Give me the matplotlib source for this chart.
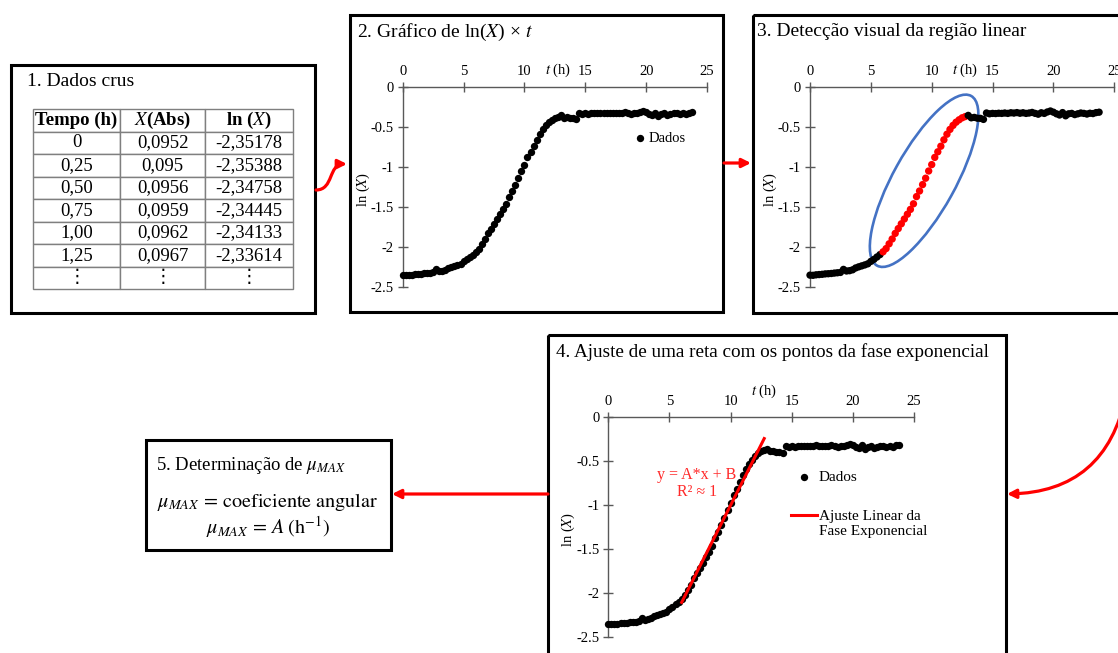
import numpy as np
import matplotlib
matplotlib.use('Agg')
import matplotlib.pyplot as plt
from matplotlib.patches import Rectangle, Ellipse, FancyArrowPatch
from matplotlib.path import Path
from matplotlib.legend_handler import HandlerLine2D
from matplotlib.transforms import ScaledTranslation
from matplotlib.ticker import FuncFormatter

plt.rcParams['font.family'] = ['Liberation Serif', 'DejaVu Serif', 'DejaVu Sans']
plt.rcParams['mathtext.fontset'] = 'stix'
plt.rcParams['axes.unicode_minus'] = False

W, H = 1118, 653

# passo 1 - tabela de dados crus
tempo_tab = ['0', '0,25', '0,50', '0,75', '1,00', '1,25']
abs_tab = [0.0952, 0.095, 0.0956, 0.0959, 0.0962, 0.0967]

# ln(X) a cada 0,25 h
dt = 0.25
ln_x = [-2.35178, -2.35388, -2.34758, -2.34445, -2.34133, -2.33614,
        -2.334, -2.331, -2.326, -2.322, -2.318, -2.280,
        -2.300, -2.296, -2.285, -2.262, -2.248, -2.236,
        -2.224, -2.210, -2.180, -2.155, -2.125, -2.095,
        -2.060, -2.020, -1.960, -1.900, -1.830, -1.770,
        -1.710, -1.650, -1.590, -1.530, -1.460, -1.370,
        -1.300, -1.220, -1.140, -1.050, -0.970, -0.880,
        -0.810, -0.740, -0.660, -0.590, -0.530, -0.480,
        -0.440, -0.410, -0.385, -0.370, -0.355, -0.385,
        -0.380, -0.390, -0.392, -0.405, -0.325, -0.335,
        -0.330, -0.332, -0.328, -0.330, -0.325, -0.330,
        -0.322, -0.326, -0.320, -0.328, -0.322, -0.330,
        -0.325, -0.318, -0.330, -0.340, -0.322, -0.330,
        -0.312, -0.300, -0.315, -0.335, -0.350, -0.320,
        -0.360, -0.335, -0.330, -0.345, -0.335, -0.325,
        -0.330, -0.338, -0.328, -0.332, -0.320, -0.315]
fase_exp = (6.0, 12.75)

x_ticks = [0, 5, 10, 15, 20, 25]
y_ticks = [0, -0.5, -1, -1.5, -2, -2.5]

t = dt * np.arange(len(ln_x))
ln_x = np.array(ln_x)
em_fase = (t >= fase_exp[0]) & (t <= fase_exp[1])

fig = plt.figure(figsize=(W / 100, H / 100), dpi=100)
ov = fig.add_axes([0, 0, 1, 1])
ov.set_xlim(0, W)
ov.set_ylim(H, 0)
ov.axis('off')


class HandlerPrimeiraLinha(HandlerLine2D):
    # alinha o traco da legenda com a primeira linha do rotulo
    def create_artists(self, legend, orig_handle, xdescent, ydescent,
                       width, height, fontsize, trans):
        return super().create_artists(legend, orig_handle, xdescent,
                                      ydescent - 1.15 * fontsize, width, height,
                                      fontsize, trans)


def px_axes(left, top, width, height):
    a = fig.add_axes([left / W, 1 - (top + height) / H, width / W, height / H])
    a.patch.set_alpha(0)
    return a


def caixa(x0, y0, x1, y1):
    ov.add_patch(Rectangle((x0, y0), x1 - x0, y1 - y0, fill=False,
                           ec='black', lw=2.2, clip_on=False))


def estilo(ax):
    ax.set_xlim(0, 25)
    ax.set_ylim(-2.5, 0)
    for s in ['right', 'bottom']:
        ax.spines[s].set_visible(False)
    for s in ['top', 'left']:
        ax.spines[s].set_color('#595959')
        ax.spines[s].set_linewidth(1)
    ax.xaxis.tick_top()
    ax.xaxis.set_label_position('top')
    ax.set_xticks(x_ticks)
    ax.set_yticks(y_ticks)
    ax.yaxis.set_major_formatter(FuncFormatter(lambda v, p: f'{v:g}'))
    ax.tick_params(direction='inout', length=7, width=1, color='#595959',
                   labelsize=10.5, pad=3)
    ax.set_xlabel('$t$ (h)', fontsize=10.5)
    ax.xaxis.set_label_coords(0.51, 1.085)
    ax.xaxis.label.set_va('center')
    ax.set_ylabel('ln ($X$)', fontsize=10.5)
    ax.yaxis.set_label_coords(-0.13, 0.49)
    ax.yaxis.label.set_va('center')


# caixas
caixa(11, 65, 315, 313)
caixa(350, 15, 723, 312)
caixa(753, 15, 1125, 313)
caixa(548, 335, 1006, 665)
caixa(146, 440, 391, 550)

# 1. tabela
ov.text(27, 82, '1. Dados crus', fontsize=14, va='center')
tab_ax = px_axes(33, 109, 260, 180)
tab_ax.axis('off')
linhas = [[tp, f'{a:.4f}'.rstrip('0').replace('.', ','), f'{np.log(a):.5f}'.replace('.', ',')]
          for tp, a in zip(tempo_tab, abs_tab)]
linhas.append(['⋮', '⋮', '⋮'])
tab = tab_ax.table(cellText=linhas, colLabels=['Tempo (h)', '$X$(Abs)', 'ln ($X$)'],
                   bbox=[0, 0, 1, 1], cellLoc='center',
                   colWidths=[87 / 260, 85 / 260, 88 / 260])
tab.auto_set_font_size(False)
for (r, c), cell in tab.get_celld().items():
    cell.set_edgecolor('#7f7f7f')
    cell.set_linewidth(1)
    cell.get_text().set_fontsize(13.5)
    if r == 0:
        cell.get_text().set_fontweight('bold')

# 2. grafico
ov.text(357, 32, '2. Gráfico de ln($X$) × $t$', fontsize=14, va='center')
ax2 = px_axes(402.7, 87, 304.3, 200)
estilo(ax2)
ax2.scatter(t, ln_x, s=28, c='black', linewidths=0, zorder=3, clip_on=False, label='Dados')
ax2.legend(loc='center left', bbox_to_anchor=(0.765, 0.745), frameon=False,
           borderpad=0, borderaxespad=0, handlelength=0.6, handletextpad=0.3,
           scatterpoints=1, fontsize=10.5)

# 3. regiao linear
ov.text(757, 32, '3. Detecção visual da região linear', fontsize=14, va='center')
ax3 = px_axes(810, 87, 304.3, 200)
estilo(ax3)
cores = np.where(em_fase, 'red', 'black')
ax3.scatter(t, ln_x, s=28, c=cores, linewidths=0, zorder=3, clip_on=False)
cx, cy = t[em_fase].mean(), ln_x[em_fase].mean()
elip = Ellipse((0, 0), width=1.94, height=0.62, angle=61, fill=False,
               ec='#4472C4', lw=1.9, clip_on=False,
               transform=fig.dpi_scale_trans + ScaledTranslation(cx, cy, ax3.transData))
ax3.add_artist(elip)

# 4. ajuste
ov.text(556, 352, '4. Ajuste de uma reta com os pontos da fase exponencial',
        fontsize=13.8, va='center')
ax4 = px_axes(608.3, 417.3, 305.7, 220)
estilo(ax4)
ax4.xaxis.set_label_coords(0.51, 1.116)
ax4.scatter(t, ln_x, s=28, c='black', linewidths=0, zorder=3, clip_on=False, label='Dados')
coef = np.polyfit(t[em_fase], ln_x[em_fase], 1)
t_fit = np.array(fase_exp)
reta, = ax4.plot(t_fit, np.polyval(coef, t_fit), color='red', lw=2.2, zorder=4,
                 label='Ajuste Linear da\nFase Exponencial')
ax4.text(0.289, 0.70, 'y = A*x + B\nR² ≈ 1', color='#FF2A2A', fontsize=11.5,
         ha='center', va='center', transform=ax4.transAxes, linespacing=1.1)
ax4.legend(loc='upper left', bbox_to_anchor=(0.598, 0.758), frameon=False,
           borderpad=0, borderaxespad=0, handlelength=1.7, handletextpad=0.1,
           labelspacing=1.7, scatterpoints=1, fontsize=11,
           handler_map={reta: HandlerPrimeiraLinha()})

# 5. mu max
ov.text(156, 466, r'5. Determinação de $\mu_{MAX}$', fontsize=13.5, va='center')
ov.text(268, 502, r'$\mu_{MAX}\, =\, \mathrm{coeficiente\ angular}$', fontsize=14.5,
        ha='center', va='center')
ov.text(268, 527, r'$\mu_{MAX}\, =\, A\;(\mathrm{h}^{-1})$', fontsize=14.5,
        ha='center', va='center')

# setas
seta = dict(arrowstyle='-|>', mutation_scale=13, color='red', lw=2.3)
curva = Path([(316, 190), (334, 190), (328, 164), (347, 164)],
             [Path.MOVETO, Path.CURVE4, Path.CURVE4, Path.CURVE4])
ov.add_patch(FancyArrowPatch(path=curva, **seta))
ov.add_patch(FancyArrowPatch((724, 163), (751, 163), shrinkA=0, shrinkB=0, **seta))
ov.add_patch(FancyArrowPatch((548, 494), (392, 494), shrinkA=0, shrinkB=0, **seta))
ov.add_patch(FancyArrowPatch((1126, 395), (1007, 494), shrinkA=0, shrinkB=0,
                             connectionstyle='arc3,rad=-0.4', **seta))

fig.savefig('out.png', dpi=100)
